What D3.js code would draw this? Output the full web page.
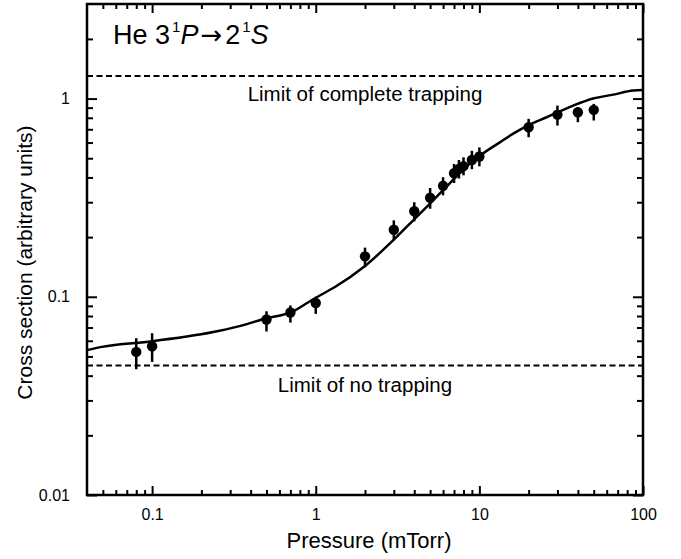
<!DOCTYPE html>
<html>
<head>
<meta charset="utf-8">
<script src="https://cdn.jsdelivr.net/npm/d3@7"></script>
<style>
  html, body { margin: 0; padding: 0; background: #fff; }
  svg { display: block; }
  text { font-family: "Liberation Sans", Arial, Helvetica, sans-serif; fill: #000; }
</style>
</head>
<body>
<svg id="chart" width="681" height="559"></svg>
<script>
// ---- data ----
const pressure     = [0.08, 0.1, 0.5, 0.7, 1, 2, 3, 4, 5, 6, 7, 7.5, 8, 9, 10, 20, 30, 40, 50];
const crossSection = [0.0527, 0.0563, 0.0768, 0.0833, 0.093, 0.16, 0.218, 0.27, 0.316, 0.363, 0.42, 0.442, 0.456, 0.49, 0.51, 0.717, 0.83, 0.853, 0.877];
const errLow       = [0.0431, 0.0469, 0.0668, 0.0741, 0.082, 0.141, 0.194, 0.24, 0.278, 0.325, 0.375, 0.395, 0.41, 0.44, 0.455, 0.638, 0.731, 0.76, 0.775];
const errHigh      = [0.0618, 0.0655, 0.0845, 0.0904, 0.100, 0.177, 0.243, 0.30, 0.354, 0.401, 0.468, 0.49, 0.505, 0.545, 0.567, 0.79, 0.922, 0.904, 0.94];

const curveP = [0.04, 0.0493, 0.1, 0.254, 0.37, 0.468, 0.747, 0.86, 1.04, 1.31, 2.0, 2.98, 3.94, 4.99, 6.61, 8.36, 10.1, 13.4, 16.1, 20, 25.8, 37.5, 49.6, 65.8, 87.1, 100];
const curveS = [0.0538, 0.0559, 0.0597, 0.0672, 0.0724, 0.0768, 0.0855, 0.0917, 0.1006, 0.112, 0.143, 0.193, 0.243, 0.295, 0.375, 0.455, 0.516, 0.603, 0.665, 0.735, 0.805, 0.922, 1.0, 1.047, 1.097, 1.106];

const limitComplete = 1.3;
const limitNone = 0.045;

const xMajor = [0.1, 1, 10, 100];
const xMinor = [0.05, 0.06, 0.07, 0.08, 0.09, 0.2, 0.3, 0.4, 0.5, 0.6, 0.7, 0.8, 0.9, 2, 3, 4, 5, 6, 7, 8, 9, 20, 30, 40, 50, 60, 70, 80, 90];
const xTickLabels = ["0.1", "1", "10", "100"];
const yMajor = [0.01, 0.1, 1];
const yMinor = [0.02, 0.03, 0.04, 0.05, 0.06, 0.07, 0.08, 0.09, 0.2, 0.3, 0.4, 0.5, 0.6, 0.7, 0.8, 0.9, 2];
const yTickLabels = ["0.01", "0.1", "1"];

const xTitle = "Pressure (mTorr)";
const yTitle = "Cross section (arbitrary units)";
const labelComplete = "Limit of complete trapping";
const labelNone = "Limit of no trapping";

// ---- layout ----
const L = 87, R = 643, T = 4, B = 495;
const svg = d3.select("#chart");

const x = d3.scaleLog().domain([0.04, 100]).range([L, R]);
const y = d3.scaleLog().domain([0.01, 3]).range([B, T]);

// axes (ticks pointing inward)
function styleAxis(g) {
  g.select(".domain").remove();
  g.selectAll(".tick line").attr("stroke", "#000").attr("stroke-width", 2);
  g.selectAll(".tick text").style("font-size", "16px").style("font-family", '"Liberation Sans", Arial, sans-serif').attr("fill", "#000");
}

svg.append("g").attr("transform", `translate(0,${B})`)
  .call(d3.axisBottom(x).tickValues(xMajor).tickSizeInner(-9).tickSizeOuter(0).tickPadding(14)
    .tickFormat((d, i) => xTickLabels[i]))
  .call(styleAxis);
svg.append("g").attr("transform", `translate(0,${B})`)
  .call(d3.axisBottom(x).tickValues(xMinor).tickSizeInner(-5).tickSizeOuter(0).tickFormat(""))
  .call(styleAxis);
svg.append("g").attr("transform", `translate(0,${T})`)
  .call(d3.axisTop(x).tickValues(xMajor).tickSizeInner(-9).tickSizeOuter(0).tickFormat(""))
  .call(styleAxis);
svg.append("g").attr("transform", `translate(0,${T})`)
  .call(d3.axisTop(x).tickValues(xMinor).tickSizeInner(-5).tickSizeOuter(0).tickFormat(""))
  .call(styleAxis);

svg.append("g").attr("transform", `translate(${L},0)`)
  .call(d3.axisLeft(y).tickValues(yMajor).tickSizeInner(-10).tickSizeOuter(0).tickPadding(17)
    .tickFormat((d, i) => yTickLabels[i]))
  .call(styleAxis);
svg.append("g").attr("transform", `translate(${L},0)`)
  .call(d3.axisLeft(y).tickValues(yMinor).tickSizeInner(-6).tickSizeOuter(0).tickFormat(""))
  .call(styleAxis);
svg.append("g").attr("transform", `translate(${R},0)`)
  .call(d3.axisRight(y).tickValues(yMajor).tickSizeInner(-10).tickSizeOuter(0).tickFormat(""))
  .call(styleAxis);
svg.append("g").attr("transform", `translate(${R},0)`)
  .call(d3.axisRight(y).tickValues(yMinor).tickSizeInner(-6).tickSizeOuter(0).tickFormat(""))
  .call(styleAxis);

// frame
svg.append("rect").attr("x", L).attr("y", T).attr("width", R - L).attr("height", B - T)
  .attr("fill", "none").attr("stroke", "#000").attr("stroke-width", 2.5);

// dashed limit lines
[limitComplete, limitNone].forEach(v => {
  svg.append("line")
    .attr("x1", x(0.04)).attr("x2", x(100))
    .attr("y1", y(v)).attr("y2", y(v))
    .attr("stroke", "#000").attr("stroke-width", 2).attr("stroke-dasharray", "6,3.5");
});
const xMid = (L + R) / 2;
svg.append("text").attr("x", xMid).attr("y", y(limitComplete) + 25)
  .attr("text-anchor", "middle").style("font-size", "20.5px").text(labelComplete);
svg.append("text").attr("x", xMid).attr("y", y(limitNone) + 26)
  .attr("text-anchor", "middle").style("font-size", "20.5px").text(labelNone);

// fitted curve
const line = d3.line().x((d, i) => x(curveP[i])).y(d => y(d)).curve(d3.curveMonotoneX);
svg.append("path").datum(curveS).attr("d", line)
  .attr("fill", "none").attr("stroke", "#000").attr("stroke-width", 2.5);

// error bars
svg.append("g").selectAll("line").data(pressure).join("line")
  .attr("x1", d => x(d)).attr("x2", d => x(d))
  .attr("y1", (d, i) => y(errLow[i])).attr("y2", (d, i) => y(errHigh[i]))
  .attr("stroke", "#000").attr("stroke-width", 2.5);

// points
svg.append("g").selectAll("circle").data(pressure).join("circle")
  .attr("cx", d => x(d)).attr("cy", (d, i) => y(crossSection[i]))
  .attr("r", 5.2).attr("fill", "#000");

// axis titles
svg.append("text").attr("x", xMid + 4).attr("y", 548)
  .attr("text-anchor", "middle").style("font-size", "22px").text(xTitle);
svg.append("text").attr("transform", `translate(32,${(T + B) / 2 + 13}) rotate(-90)`)
  .attr("text-anchor", "middle").style("font-size", "21px").text(yTitle);

// title
const title = svg.append("text").attr("x", 113).attr("y", 44).style("font-size", "27px");
title.append("tspan").text("He 3");
title.append("tspan").attr("dx", 2).attr("dy", -12).style("font-size", "15px").text("1");
title.append("tspan").attr("dy", 12).style("font-style", "italic").text("P");
title.append("tspan").attr("dx", 2).style("font-family", '"DejaVu Sans", sans-serif').style("font-size", "26px").text("\u2192");
title.append("tspan").attr("dx", 3).text("2");
title.append("tspan").attr("dx", 2).attr("dy", -12).style("font-size", "15px").text("1");
title.append("tspan").attr("dy", 12).style("font-style", "italic").text("S");
</script>
</body>
</html>
